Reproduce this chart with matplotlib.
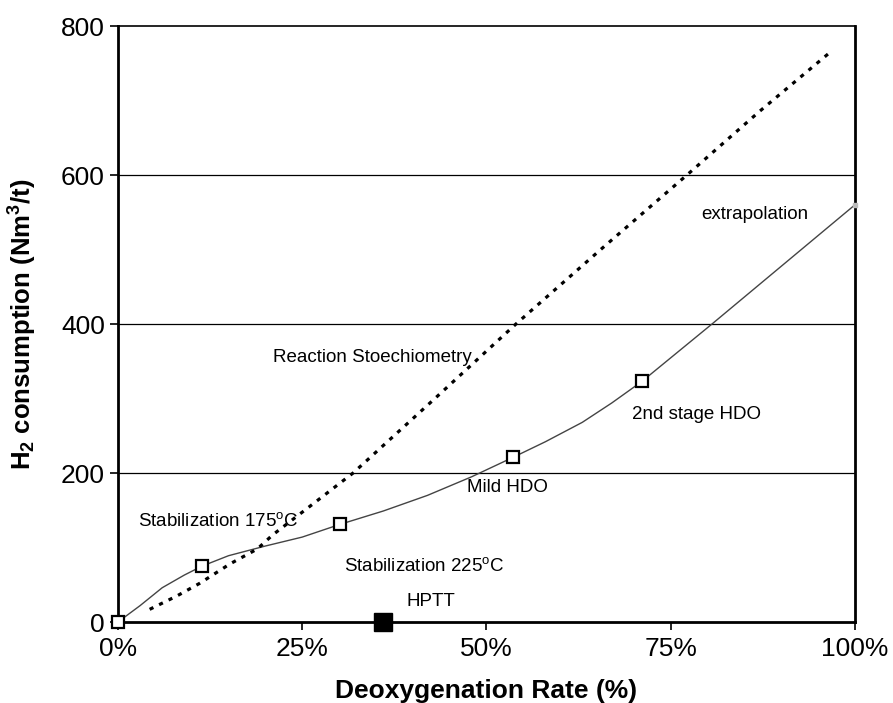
import numpy as np
import matplotlib.pyplot as plt
from matplotlib.ticker import FuncFormatter

plt.rcParams['font.family'] = ['Liberation Sans', 'DejaVu Sans']
plt.rcParams['mathtext.default'] = 'regular'

# H2 consumption curve (solid)
deox_curve = [0, 3, 6, 9, 11.4, 15, 20, 25, 30.1, 36, 42, 48, 53.6, 58, 63, 67, 71.1, 80.6, 100]
h2_curve = [0, 22, 46, 63, 75, 89, 102, 114, 131, 149, 170, 195, 221, 242, 268, 294, 323, 400, 560]

# measured points (open squares)
deox_pts = [0, 11.4, 30.1, 53.6, 71.1]
h2_pts = [0, 75, 131, 221, 323]

# reaction stoechiometry (dotted)
deox_stoich = [4.3, 8, 11.1, 15.2, 18.9, 21, 26, 31.9, 43, 54, 65.5, 77.2, 87, 96.9]
h2_stoich = [17, 35, 52, 78, 98, 117, 155, 200, 300, 400, 500, 600, 685, 767]

# HPTT point
deox_hptt = [36]
h2_hptt = [0]

fig = plt.figure(figsize=(8.93, 7.03), dpi=100)
ax = fig.add_axes([0.1321, 0.1152, 0.8253, 0.8478])

for yv in [200, 400, 600]:
    ax.axhline(yv, color='black', lw=0.9, zorder=1)

ax.plot(deox_curve, h2_curve, color='#444444', lw=1.0, zorder=2)
ax.plot(deox_stoich, h2_stoich, color='black', lw=2.3, ls=(0, (1.3, 2.0)), zorder=2)
ax.plot(deox_pts, h2_pts, ls='none', marker='s', ms=8, mfc='white', mec='black', mew=1.6, zorder=4, clip_on=False)
ax.plot(deox_hptt, h2_hptt, ls='none', marker='s', ms=13, mfc='black', mec='black', zorder=5, clip_on=False)
ax.plot([100], [560], ls='none', marker='s', ms=3, mfc='#bbbbbb', mec='#bbbbbb', zorder=4, clip_on=False)

fs = 13.5
ax.text(21.1, 355, 'Reaction Stoechiometry', fontsize=fs, va='center', ha='left', zorder=3)
ax.text(79.2, 547, 'extrapolation', fontsize=fs, va='center', ha='left', zorder=3)
ax.text(69.7, 278, '2nd stage HDO', fontsize=fs, va='center', ha='left', zorder=3)
ax.text(47.4, 181, 'Mild HDO', fontsize=fs, va='center', ha='left', zorder=1.5,
        bbox=dict(facecolor='white', edgecolor='none', pad=3))
ax.text(2.7, 135, r'Stabilization 175$^{o}$C', fontsize=fs, va='center', ha='left', zorder=3)
ax.text(30.7, 75, r'Stabilization 225$^{o}$C', fontsize=fs, va='center', ha='left', zorder=3)
ax.text(39.1, 28, 'HPTT', fontsize=fs, va='center', ha='left', zorder=3)

ax.set_xlim(0, 100)
ax.set_ylim(0, 800)
ax.set_xticks([0, 25, 50, 75, 100])
ax.set_yticks([0, 200, 400, 600, 800])
ax.xaxis.set_major_formatter(FuncFormatter(lambda v, p: f'{int(v)}%'))
ax.tick_params(axis='both', labelsize=19, direction='out', length=6, width=1.2)
ax.tick_params(axis='x', pad=5)

for side in ['left', 'bottom', 'right']:
    ax.spines[side].set_linewidth(2)
ax.spines['top'].set_linewidth(1.2)

ax.set_xlabel('Deoxygenation Rate (%)', fontsize=19, fontweight='bold')
ax.set_ylabel(r'H$_2$ consumption (Nm$^3$/t)', fontsize=18.5, fontweight='bold')
ax.xaxis.set_label_coords(0.5, -0.095)
ax.yaxis.set_label_coords(-0.107, 0.5)

fig.savefig('out.png', dpi=100)
